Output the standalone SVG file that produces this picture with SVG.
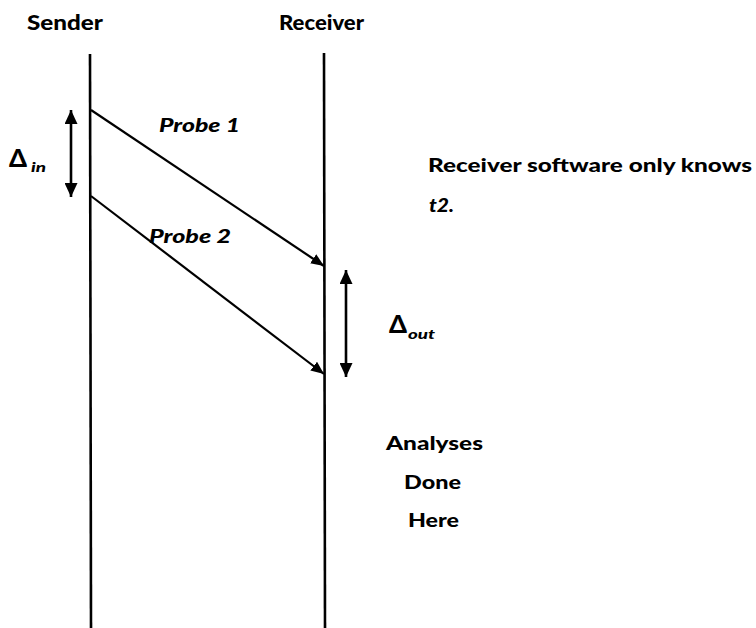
<svg xmlns="http://www.w3.org/2000/svg" width="756" height="628" viewBox="0 0 756 628">
<style>
.t{font-family:Lato,"Open Sans","Liberation Sans",sans-serif;font-weight:900;fill:#000}
.i{font-style:italic}
.ln{stroke:#000;stroke-width:2.6;fill:none}
.ar{stroke:#000;stroke-width:2.2;fill:none}
.dl{stroke:#000;stroke-width:2.6;fill:none}
</style>
<defs>
<marker id="ah" viewBox="0 0 13 11" refX="13" refY="5.5" markerWidth="13" markerHeight="11" markerUnits="userSpaceOnUse" orient="auto-start-reverse">
<path d="M0,0 L13,5.5 L0,11 z" fill="#000"/>
</marker>
<marker id="dh" viewBox="0 0 14 13" refX="14" refY="6.5" markerWidth="14" markerHeight="13" markerUnits="userSpaceOnUse" orient="auto-start-reverse">
<path d="M0,0 L14,6.5 L0,13 z" fill="#000"/>
</marker>
</defs>
<rect width="756" height="628" fill="#fff"/>
<g id="sender">
<text class="t" x="27" y="30" font-size="20" textLength="76" lengthAdjust="spacingAndGlyphs">Sender</text>
<line class="ln" x1="90" y1="54" x2="91" y2="628"/>
</g>
<g id="receiver">
<text class="t" x="279" y="30" font-size="20" textLength="85" lengthAdjust="spacingAndGlyphs">Receiver</text>
<line class="ln" x1="324" y1="53" x2="325" y2="628"/>
</g>
<g id="connectors">
<line class="ar" x1="91" y1="110" x2="324" y2="266" marker-end="url(#ah)"/>
<line class="ar" x1="91" y1="196" x2="324" y2="374" marker-end="url(#ah)"/>
<line class="dl" x1="71" y1="110" x2="71" y2="197" marker-start="url(#dh)" marker-end="url(#dh)"/>
<line class="dl" x1="346" y1="270" x2="346" y2="377" marker-start="url(#dh)" marker-end="url(#dh)"/>
</g>
<g id="probe1">
<text class="t i" x="159" y="132" font-size="19" textLength="81" lengthAdjust="spacingAndGlyphs">Probe 1</text>
</g>
<g id="probe2">
<text class="t i" x="149" y="243" font-size="19" textLength="82" lengthAdjust="spacingAndGlyphs">Probe 2</text>
</g>
<g id="delta-in">
<text class="t" x="9" y="167" font-size="24" textLength="18" lengthAdjust="spacingAndGlyphs">Δ</text>
<text class="t i" x="31" y="172" font-size="13" textLength="15" lengthAdjust="spacingAndGlyphs">in</text>
</g>
<g id="delta-out">
<text class="t" x="389" y="333" font-size="24" textLength="18" lengthAdjust="spacingAndGlyphs">Δ</text>
<text class="t i" x="408" y="339" font-size="13" textLength="27" lengthAdjust="spacingAndGlyphs">out</text>
</g>
<g id="note">
<text class="t" x="428" y="172" font-size="19" textLength="324" lengthAdjust="spacingAndGlyphs">Receiver software only knows</text>
<text class="t i" x="429" y="212" font-size="19" textLength="25" lengthAdjust="spacingAndGlyphs">t2.</text>
</g>
<g id="analyses">
<text class="t" x="386" y="450" font-size="19" textLength="97" lengthAdjust="spacingAndGlyphs">Analyses</text>
<text class="t" x="404" y="489" font-size="19" textLength="57" lengthAdjust="spacingAndGlyphs">Done</text>
<text class="t" x="408" y="527" font-size="19" textLength="51" lengthAdjust="spacingAndGlyphs">Here</text>
</g>
</svg>
